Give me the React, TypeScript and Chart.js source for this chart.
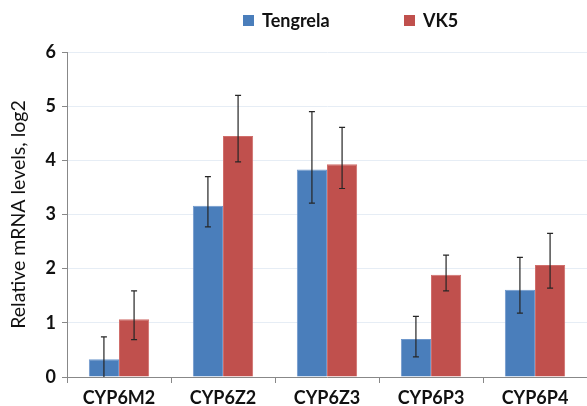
import React, { useEffect, useRef } from "react";
import { Chart, registerables } from "chart.js";

Chart.register(...registerables);

const categories = ["CYP6M2", "CYP6Z2", "CYP6Z3", "CYP6P3", "CYP6P4"];
const seriesNames = ["Tengrela", "VK5"];
const tengrela = [0.33, 3.16, 3.83, 0.7, 1.61];
const tengrelaLow = [-0.08, 2.77, 3.21, 0.37, 1.18];
const tengrelaHigh = [0.74, 3.7, 4.9, 1.12, 2.21];
const vk5 = [1.065, 4.45, 3.93, 1.89, 2.07];
const vk5Low = [0.69, 3.97, 3.48, 1.59, 1.64];
const vk5High = [1.59, 5.2, 4.61, 2.25, 2.65];
const yTicks = [0, 1, 2, 3, 4, 5, 6];
const yTitle = "Relative mRNA levels, log2";

const BLUE = "#4a7ebb";
const RED = "#c0504d";
const FONT = "Lato, 'Liberation Sans', sans-serif";

const errorBarPlugin = {
  id: "errorBars",
  afterDatasetsDraw(chart: any) {
    const { ctx, chartArea } = chart;
    const yScale = chart.scales.y;
    ctx.save();
    ctx.beginPath();
    ctx.rect(chartArea.left, chartArea.top - 20, chartArea.right - chartArea.left, chartArea.bottom - chartArea.top + 20);
    ctx.clip();
    ctx.strokeStyle = "#262626";
    ctx.lineWidth = 1.2;
    chart.data.datasets.forEach((ds: any, di: number) => {
      const meta = chart.getDatasetMeta(di);
      meta.data.forEach((bar: any, i: number) => {
        const x = bar.x;
        const yh = yScale.getPixelForValue(ds.errHigh[i]);
        const yl = yScale.getPixelForValue(ds.errLow[i]);
        ctx.beginPath();
        ctx.moveTo(x, yh);
        ctx.lineTo(x, yl);
        ctx.moveTo(x - 3, yh);
        ctx.lineTo(x + 3, yh);
        ctx.moveTo(x - 3, yl);
        ctx.lineTo(x + 3, yl);
        ctx.stroke();
      });
    });
    ctx.restore();
  },
};

const legendPlugin = {
  id: "customLegend",
  afterDraw(chart: any) {
    const { ctx } = chart;
    const starts = [243, 404];
    ctx.save();
    ctx.font = `bold 18px ${FONT}`;
    ctx.textBaseline = "middle";
    ctx.textAlign = "left";
    chart.data.datasets.forEach((ds: any, i: number) => {
      const x = starts[i];
      ctx.fillStyle = ds.backgroundColor;
      ctx.fillRect(x, 15, 11, 11);
      ctx.fillStyle = "#111";
      ctx.fillText(ds.label, x + 19, 21);
    });
    ctx.restore();
  },
};

export default function App() {
  const ref = useRef<HTMLCanvasElement>(null);
  useEffect(() => {
    if (!ref.current) return;
    const chart = new Chart(ref.current, {
      type: "bar",
      data: {
        labels: categories,
        datasets: [
          {
            label: seriesNames[0],
            data: tengrela,
            backgroundColor: BLUE,
            borderColor: "#6f98cc",
            borderWidth: 1,
            errLow: tengrelaLow,
            errHigh: tengrelaHigh,
            categoryPercentage: 0.58,
            barPercentage: 1.0,
          } as any,
          {
            label: seriesNames[1],
            data: vk5,
            backgroundColor: RED,
            borderColor: "#d06e6b",
            borderWidth: 1,
            errLow: vk5Low,
            errHigh: vk5High,
            categoryPercentage: 0.58,
            barPercentage: 1.0,
          } as any,
        ],
      },
      options: {
        responsive: false,
        animation: false,
        devicePixelRatio: 1,
        layout: { padding: { top: 52, left: 0, right: 0, bottom: 0 } },
        plugins: {
          legend: { display: false },
          tooltip: { enabled: false },
        },
        scales: {
          x: {
            grid: {
              display: true,
              drawOnChartArea: false,
              offset: true,
              tickLength: 6,
              tickColor: "#888",
            },
            border: { color: "#888", width: 1 },
            ticks: {
              color: "#111",
              font: { family: FONT, size: 18, weight: "bold" },
              padding: 4,
              maxRotation: 0,
            },
            afterFit(scale: any) {
              scale.height = 29;
            },
          },
          y: {
            min: 0,
            max: 6,
            afterBuildTicks(scale: any) {
              scale.ticks = yTicks.map((v) => ({ value: v }));
            },
            grid: {
              color: "#e6edf5",
              tickColor: "#888",
              tickLength: 5,
            },
            border: { color: "#888", width: 1 },
            ticks: {
              color: "#111",
              font: { family: FONT, size: 18, weight: "bold" },
              padding: 6,
            },
            title: {
              display: true,
              text: yTitle,
              color: "#111",
              font: { family: FONT, size: 19.5, weight: "normal" },
              padding: { top: 7, bottom: 0 },
            },
            afterFit(scale: any) {
              scale.width = 67;
            },
          },
        },
      },
      plugins: [errorBarPlugin, legendPlugin],
    });
    return () => chart.destroy();
  }, []);
  return (
    <div style={{ position: "absolute", left: 0, top: 0, width: 587, height: 406, background: "#fff" }}>
      <canvas ref={ref} width={587} height={406} style={{ width: 587, height: 406 }} />
    </div>
  );
}
